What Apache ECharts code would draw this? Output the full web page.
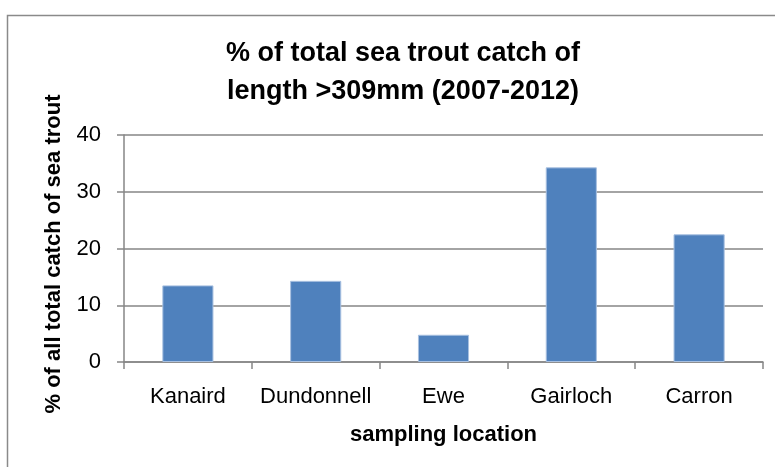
<!DOCTYPE html>
<html>
<head>
<meta charset="utf-8">
<script src="https://cdn.jsdelivr.net/npm/echarts@6/dist/echarts.min.js"></script>
<style>
  html, body { margin: 0; padding: 0; background: #fff; }
  #chart { width: 775px; height: 467px; }
</style>
</head>
<body>
<div id="chart"></div>
<script>
// sampling locations and % of catch longer than 309mm
const locations = ['Kanaird', 'Dundonnell', 'Ewe', 'Gairloch', 'Carron'];
const pctLarge = [13.5, 14.3, 4.8, 34.3, 22.5];
const yTicks = { min: 0, max: 40, interval: 10 };

const font = "'Liberation Sans', Arial, sans-serif";
const gray = '#868686';

const chart = echarts.init(document.getElementById('chart'));

chart.setOption({
    backgroundColor: '#fff',
    animation: false,
    graphic: [{
        type: 'rect',
        shape: { x: 7.5, y: 15.5, width: 800, height: 500 },
        style: { fill: 'none', stroke: '#8a8a8a', lineWidth: 1.5 },
        silent: true
    }, {
        // y axis title, placed by hand like the original
        type: 'text',
        x: 54,
        y: 254,
        rotation: Math.PI / 2,
        style: {
            text: '% of all total catch of sea trout',
            fontFamily: font, fontSize: 22, fontWeight: 'bold', fill: '#000',
            align: 'center', verticalAlign: 'middle'
        },
        silent: true
    }],
    title: {
        text: '% of total sea trout catch of\nlength >309mm (2007-2012)',
        left: 398,
        textAlign: 'center',
        top: 30,
        textStyle: { fontFamily: font, fontSize: 27, fontWeight: 'bold', color: '#000', lineHeight: 38 }
    },
    grid: { left: 124, right: 12, top: 135, bottom: 105 },
    xAxis: {
        type: 'category',
        data: locations,
        name: 'sampling location',
        nameLocation: 'middle',
        nameGap: 62,
        nameTextStyle: { fontFamily: font, fontSize: 22, fontWeight: 'bold', color: '#000' },
        axisLine: { lineStyle: { color: gray, width: 1.5 } },
        axisTick: { show: true, length: 7, lineStyle: { color: gray, width: 1.5 } },
        axisLabel: { interval: 0, fontFamily: font, fontSize: 22, color: '#000', margin: 24 }
    },
    yAxis: {
        type: 'value',
        min: yTicks.min,
        max: yTicks.max,
        interval: yTicks.interval,
        axisLine: { show: true, lineStyle: { color: gray, width: 1.5 } },
        axisTick: { show: true, length: 7, lineStyle: { color: gray, width: 1.5 } },
        axisLabel: { fontFamily: font, fontSize: 22, color: '#000', margin: 23 },
        splitLine: { lineStyle: { color: gray, width: 1.5 } }
    },
    series: [{
        type: 'bar',
        data: pctLarge,
        barWidth: '40%',
        itemStyle: { color: '#4f81bd', borderColor: '#a8c0e0', borderWidth: 1 }
    }]
});
</script>
</body>
</html>
